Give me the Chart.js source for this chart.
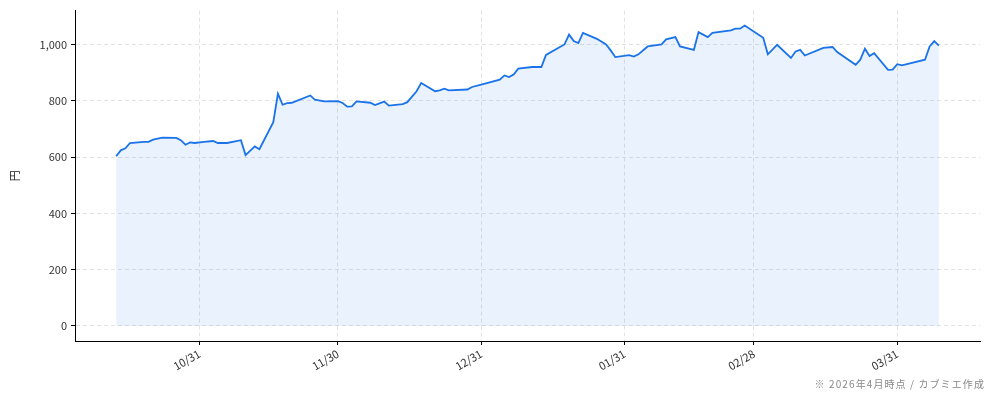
<!DOCTYPE html>
<html lang="ja">
<head>
<meta charset="utf-8">
<script src="https://cdn.jsdelivr.net/npm/chart.js@4.4.1/dist/chart.umd.min.js"></script>
<style>
  html, body { margin: 0; padding: 0; background: #fff; }
  #wrap { position: relative; width: 994px; height: 401px; }
  #note {
    position: absolute; right: 9px; top: 376px;
    font: 10px "Noto Sans CJK JP", sans-serif; color: #888; white-space: nowrap;
    letter-spacing: 1.1px;
  }
</style>
</head>
<body>
<div id="wrap">
  <canvas id="priceChart" width="994" height="401"></canvas>
  <div id="note">※ 2026年4月時点 / カブミエ作成</div>
</div>
<script>
// 株価推移（円）
const dates = [
  '2025-10-13', '2025-10-14', '2025-10-15', '2025-10-16', '2025-10-19', '2025-10-20',
  '2025-10-21', '2025-10-23', '2025-10-26', '2025-10-27', '2025-10-28', '2025-10-29',
  '2025-10-30', '2025-11-01', '2025-11-03', '2025-11-04', '2025-11-06', '2025-11-09',
  '2025-11-10', '2025-11-12', '2025-11-13', '2025-11-16', '2025-11-17', '2025-11-18',
  '2025-11-19', '2025-11-20', '2025-11-24', '2025-11-25', '2025-11-27', '2025-11-30',
  '2025-12-01', '2025-12-02', '2025-12-03', '2025-12-04', '2025-12-07', '2025-12-08',
  '2025-12-10', '2025-12-11', '2025-12-14', '2025-12-15', '2025-12-17', '2025-12-18',
  '2025-12-21', '2025-12-22', '2025-12-23', '2025-12-24', '2025-12-28', '2025-12-29',
  '2025-12-31', '2026-01-04', '2026-01-05', '2026-01-06', '2026-01-07', '2026-01-08',
  '2026-01-11', '2026-01-13', '2026-01-14', '2026-01-18', '2026-01-19', '2026-01-20',
  '2026-01-21', '2026-01-22', '2026-01-25', '2026-01-27', '2026-01-28', '2026-01-29',
  '2026-02-01', '2026-02-02', '2026-02-03', '2026-02-05', '2026-02-08', '2026-02-09',
  '2026-02-11', '2026-02-12', '2026-02-15', '2026-02-16', '2026-02-18', '2026-02-19',
  '2026-02-23', '2026-02-24', '2026-02-25', '2026-02-26', '2026-03-02', '2026-03-03',
  '2026-03-05', '2026-03-08', '2026-03-09', '2026-03-10', '2026-03-11', '2026-03-15',
  '2026-03-17', '2026-03-18', '2026-03-22', '2026-03-23', '2026-03-24', '2026-03-25',
  '2026-03-26', '2026-03-29', '2026-03-30', '2026-03-31', '2026-04-01', '2026-04-06',
  '2026-04-07', '2026-04-08', '2026-04-09'
];
const prices = [
  603, 624, 631, 650, 654, 654,
  662, 669, 668, 660, 644, 652,
  650, 654, 657, 650, 650, 660,
  607, 638, 628, 724, 825, 786,
  792, 793, 819, 804, 798, 799,
  792, 779, 780, 798, 793, 785,
  797, 783, 788, 795, 834, 863,
  834, 837, 843, 837, 840, 849,
  857, 875, 890, 884, 893, 914,
  920, 920, 963, 1000, 1035, 1012,
  1005, 1041, 1020, 1000, 979, 955,
  962, 957, 965, 993, 1000, 1018,
  1026, 993, 981, 1044, 1026, 1041,
  1050, 1056, 1056, 1067, 1024, 965,
  999, 952, 975, 981, 961, 988,
  991, 973, 928, 946, 985, 959,
  969, 910, 911, 930, 926, 946,
  993, 1012, 996
];

const xTickDates = ['2025-10-31', '2025-11-30', '2025-12-31', '2026-01-31', '2026-02-28', '2026-03-31'];
const xTickLabels = ['10/31', '11/30', '12/31', '01/31', '02/28', '03/31'];
const yTicks = [0, 200, 400, 600, 800, 1000];

const toDay = s => {
  const [y, m, d] = s.split('-').map(Number);
  return Date.UTC(y, m - 1, d) / 86400000;
};

const points = dates.map((d, i) => ({ x: toDay(d), y: prices[i] }));
const tickDays = xTickDates.map(toDay);

// matplotlib風の余白 (5%)
const xFirst = points[0].x, xLast = points[points.length - 1].x;
const xPad = (xLast - xFirst) * 0.05;
const yMax = Math.max(...prices);
const yPad = yMax * 0.05;

const FONT = '"Noto Sans CJK JP", "Noto Sans", sans-serif';
const gridStyle = {
  color: '#e3e3e3',
  lineWidth: 1,
  tickColor: '#000',
  tickLength: 4,
  tickWidth: 1,
  tickBorderDash: [],
  drawTicks: true
};

new Chart(document.getElementById('priceChart'), {
  type: 'line',
  data: {
    datasets: [{
      label: '株価',
      data: points,
      borderColor: '#1a73e8',
      backgroundColor: 'rgba(26, 115, 232, 0.09)',
      borderWidth: 1.8,
      pointRadius: 0,
      tension: 0,
      fill: 'origin'
    }]
  },
  options: {
    responsive: false,
    animation: false,
    layout: { padding: { top: 10, right: 14, left: 0, bottom: 0 } },
    plugins: { legend: { display: false }, tooltip: { enabled: false } },
    scales: {
      x: {
        type: 'linear',
        min: xFirst - xPad,
        max: xLast + xPad,
        afterBuildTicks: scale => { scale.ticks = tickDays.map(v => ({ value: v })); },
        afterFit: scale => { scale.height = 60; },
        ticks: {
          autoSkip: false,
          minRotation: 30,
          maxRotation: 30,
          color: '#333',
          font: { family: FONT, size: 11 },
          padding: 2,
          callback: v => xTickLabels[tickDays.indexOf(v)] ?? ''
        },
        grid: Object.assign({ borderDash: [4, 3] }, gridStyle),
        border: { display: true, color: '#000', width: 1, dash: [4, 3] }
      },
      y: {
        min: -yPad,
        max: yMax + yPad,
        afterBuildTicks: scale => { scale.ticks = yTicks.map(v => ({ value: v })); },
        afterFit: scale => { scale.width = 75; },
        ticks: {
          color: '#333',
          font: { family: FONT, size: 11 },
          padding: 4,
          callback: v => v.toLocaleString('en-US')
        },
        title: {
          display: true,
          text: '円',
          color: '#222',
          font: { family: FONT, size: 11 },
          padding: { top: 8, bottom: 0 }
        },
        grid: gridStyle,
        border: { display: true, color: '#000', width: 1, dash: [4, 3] }
      }
    }
  }
});
</script>
</body>
</html>
